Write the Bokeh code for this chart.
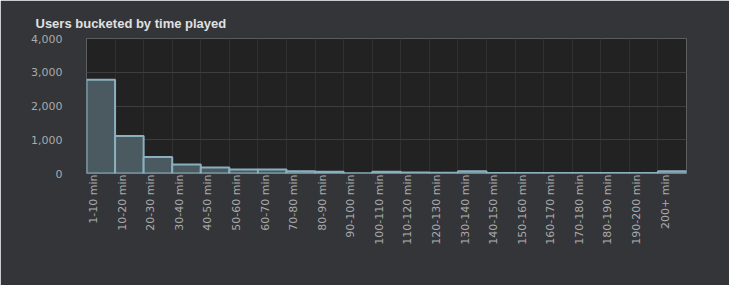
from bokeh.plotting import figure
from bokeh.models import Range1d, FixedTicker, NumeralTickFormatter, ColumnDataSource
from bokeh.embed import file_html
from bokeh.resources import INLINE
import math

categories = ["1-10 min", "10-20 min", "20-30 min", "30-40 min", "40-50 min", "50-60 min",
              "60-70 min", "70-80 min", "80-90 min", "90-100 min", "100-110 min", "110-120 min",
              "120-130 min", "130-140 min", "140-150 min", "150-160 min", "160-170 min",
              "170-180 min", "180-190 min", "190-200 min", "200+ min"]
users = [2780, 1110, 490, 270, 180, 120, 120, 70, 55, 5, 55, 30, 20, 65, 15, 15, 15, 15, 15, 15, 65]
y_ticks = [0, 1000, 2000, 3000, 4000]

n = len(categories)
src = ColumnDataSource(dict(left=list(range(n)), right=[i + 1 for i in range(n)],
                            top=users, bottom=[0] * n))

p = figure(width=729, height=285, output_backend="svg", toolbar_location=None,
           x_range=Range1d(0, n), y_range=Range1d(0, 4000),
           min_border_left=86, min_border_right=43, min_border_top=38, min_border_bottom=112)
p.background_fill_color = "#222222"
p.border_fill_color = "#333539"
p.outline_line_color = None

p.title.text = "Users bucketed by time played"
p.title.text_font = "Liberation Sans"
p.title.text_font_size = "13px"
p.title.text_font_style = "bold"
p.title.text_color = "#e0e0e0"
p.title.align = "left"
p.title.offset = -51
p.title.standoff = 16

p.quad(left="left", right="right", top="top", bottom="bottom", source=src,
       fill_color="#4a5a60", line_color="#8ab0bf", line_width=2)

p.xaxis.ticker = FixedTicker(ticks=[i + 0.25 for i in range(n)])
p.xaxis.major_label_overrides = {i + 0.25: c for i, c in enumerate(categories)}
p.xaxis.major_label_orientation = math.pi / 2
p.xaxis.axis_line_color = None
p.xaxis.major_tick_line_color = None
p.xaxis.minor_tick_line_color = None
p.xaxis.major_tick_out = 0
p.xaxis.major_label_standoff = 1
p.xaxis.major_label_text_font = "DejaVu Sans"
p.xaxis.major_label_text_font_size = "11px"
p.xaxis.major_label_text_color = "#aaaaaa"

p.yaxis.ticker = FixedTicker(ticks=y_ticks)
p.yaxis.formatter = NumeralTickFormatter(format="0,0")
p.yaxis.axis_line_color = None
p.yaxis.major_tick_line_color = None
p.yaxis.minor_tick_line_color = None
p.yaxis.major_label_standoff = 18
p.yaxis.major_label_text_font = "DejaVu Sans"
p.yaxis.major_label_text_font_size = "11px"
p.yaxis.major_label_text_color = "#aaaaaa"

p.xgrid.ticker = FixedTicker(ticks=list(range(n + 1)))
p.xgrid.grid_line_color = "#303030"
p.ygrid.grid_line_color = "#3e3e3e"

open("out.html", "w").write(file_html(p, INLINE))
